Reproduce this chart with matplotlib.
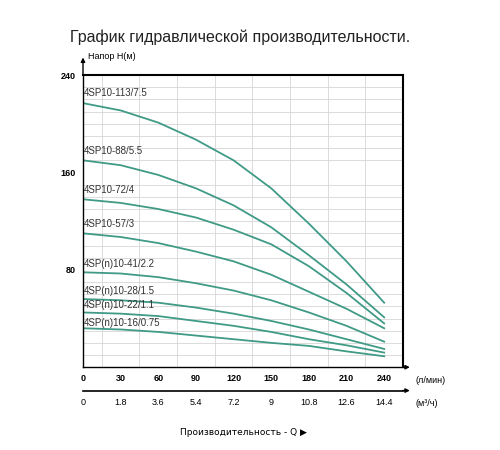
import matplotlib.pyplot as plt
import numpy as np

flow_lpm = [0, 30, 60, 90, 120, 150, 180, 210, 240]
models = ["4SP10-113/7.5", "4SP10-88/5.5", "4SP10-72/4", "4SP10-57/3",
          "4SP(n)10-41/2.2", "4SP(n)10-28/1.5", "4SP(n)10-22/1.1", "4SP(n)10-16/0.75"]
head_113 = [217, 211, 201, 187, 170, 147, 118, 87, 53]
head_88 = [170, 166, 158, 147, 133, 115, 92, 68, 41]
head_72 = [138, 135, 130, 123, 113, 101, 83, 61, 36]
head_57 = [110, 107, 102, 95, 87, 76, 62, 48, 32]
head_41 = [78, 77, 74, 69, 63, 55, 45, 34, 21]
head_28 = [56, 55, 53, 49, 44, 38, 31, 23, 15]
head_22 = [45, 44, 42, 38, 34, 29, 23, 18, 12]
head_16 = [32, 31, 29, 26, 23, 20, 17.5, 13, 9]
heads = [head_113, head_88, head_72, head_57, head_41, head_28, head_22, head_16]
label_y = [225, 178, 146, 118, 85, 63, 51, 36]
m3h_ticks = [0, 1.8, 3.6, 5.4, 7.2, 9, 10.8, 12.6, 14.4]
m3h_labels = ["0", "1.8", "3.6", "5.4", "7.2", "9", "10.8", "12.6", "14.4"]

plt.rcParams["font.family"] = ["Liberation Sans", "DejaVu Sans"]
fig = plt.figure(figsize=(5, 4.5), dpi=100)
ax = fig.add_axes([0.166, 0.184, 0.64, 0.649])
curve_col = "#3f9a86"

for h, name, ly in zip(heads, models, label_y):
    ax.plot(flow_lpm, h, color=curve_col, lw=1.3)
    ax.text(1, ly, name, fontsize=7, color="#333333", va="center")

ax.set_xlim(0, 255)
ax.set_ylim(0, 240)
ax.set_xticks(np.arange(0, 256, 15), minor=True)
ax.set_yticks(np.arange(0, 241, 10), minor=True)
ax.grid(which="minor", color="#d6d6d6", lw=0.6)
ax.set_xticks(flow_lpm)
ax.set_yticks([80, 160, 240])
ax.tick_params(which="both", length=0, labelsize=6.5, pad=5)
ax.set_yticklabels(["80", "160", "240"], fontweight="bold")
ax.set_xticklabels([str(v) for v in flow_lpm], fontweight="bold")
for s in ["top", "right", "left", "bottom"]:
    ax.spines[s].set_linewidth(1.5)
ax.spines["left"].set_linewidth(1.0)
ax.spines["bottom"].set_linewidth(1.0)

# axis arrows
ax.annotate("", xy=(0, 1.07), xytext=(0, 0.99), xycoords="axes fraction",
            arrowprops=dict(arrowstyle="-|>", color="black", lw=1, mutation_scale=6))
ax.text(0.015, 1.065, "Напор H(м)", transform=ax.transAxes, fontsize=6.5, va="center")
ax.annotate("", xy=(1.03, 0), xytext=(0.99, 0), xycoords="axes fraction",
            arrowprops=dict(arrowstyle="-|>", color="black", lw=1, mutation_scale=6))
ax.text(1.04, -0.045, "(л/мин)", transform=ax.transAxes, fontsize=6.5, va="center")

sec = ax.secondary_xaxis(-0.08, functions=(lambda q: q * 0.06, lambda m: m / 0.06))
sec.set_xticks(m3h_ticks)
sec.set_xticklabels(m3h_labels)
sec.tick_params(length=0, labelsize=6.5, pad=5)
sec.spines["bottom"].set_linewidth(1.2)
ax.annotate("", xy=(1.03, -0.08), xytext=(0.99, -0.08), xycoords="axes fraction",
            arrowprops=dict(arrowstyle="-|>", color="black", lw=1, mutation_scale=6))
ax.text(1.04, -0.125, "(м³/ч)", transform=ax.transAxes, fontsize=6.5, va="center")

ax.text(0.5, -0.225, "Производительность - Q ▶", transform=ax.transAxes,
        fontsize=6.5, ha="center", va="center", family=["DejaVu Sans"])

fig.text(0.14, 0.918, "График гидравлической производительности.", fontsize=11.5,
         va="center", color="#222222")

fig.savefig("out.png", dpi=100)
